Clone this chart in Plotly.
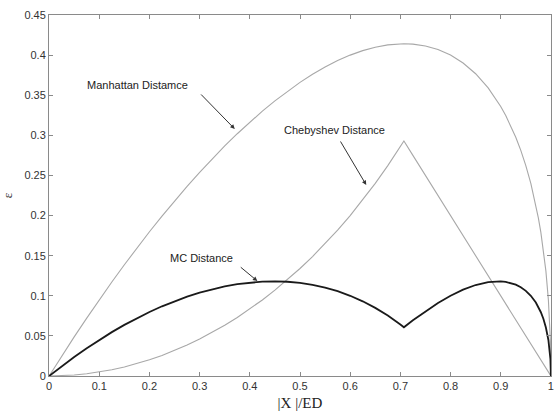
import plotly.graph_objects as go

# |X|/ED sample positions
x_vals = [0, 0.025, 0.05, 0.075, 0.1, 0.125, 0.15, 0.175, 0.2, 0.225, 0.25, 0.275, 0.3,
          0.325, 0.35, 0.375, 0.4, 0.425, 0.45, 0.475, 0.5, 0.525, 0.55, 0.575, 0.6, 0.625,
          0.65, 0.675, 0.7, 0.7071, 0.725, 0.75, 0.775, 0.8, 0.825, 0.85, 0.875, 0.9, 0.91,
          0.93, 0.94, 0.95, 0.96, 0.97, 0.975, 0.98, 0.985, 0.99, 0.995, 0.9975, 0.999, 1]

manhattan = [0, 0.0247, 0.0488, 0.0722, 0.0950, 0.1172, 0.1387, 0.1596, 0.1798, 0.1994,
             0.2183, 0.2364, 0.2539, 0.2707, 0.2868, 0.3020, 0.3165, 0.3302, 0.3430, 0.3550,
             0.3660, 0.3761, 0.3852, 0.3932, 0.4000, 0.4056, 0.4099, 0.4128, 0.4141, 0.4142,
             0.4137, 0.4114, 0.4070, 0.4000, 0.3901, 0.3768, 0.3591, 0.3359, 0.3246, 0.2976,
             0.2812, 0.2623, 0.2400, 0.2131, 0.1972, 0.1790, 0.1576, 0.1311, 0.0949, 0.0682,
             0.0437, 0]

chebyshev = [0, 0.0003, 0.0013, 0.0028, 0.0050, 0.0078, 0.0113, 0.0154, 0.0202, 0.0256,
             0.0318, 0.0386, 0.0461, 0.0543, 0.0633, 0.0730, 0.0835, 0.0948, 0.1070, 0.1200,
             0.1340, 0.1489, 0.1648, 0.1818, 0.2000, 0.2194, 0.2401, 0.2622, 0.2859, 0.2929,
             0.2750, 0.2500, 0.2250, 0.2000, 0.1750, 0.1500, 0.1250, 0.1000, 0.0900, 0.0700,
             0.0600, 0.0500, 0.0400, 0.0300, 0.0250, 0.0200, 0.0150, 0.0100, 0.0050, 0.0025,
             0.0010, 0]

mc = [0, 0.0122, 0.0238, 0.0347, 0.0450, 0.0547, 0.0637, 0.0721, 0.0798, 0.0869,
      0.0933, 0.0989, 0.1039, 0.1082, 0.1118, 0.1145, 0.1165, 0.1177, 0.1180, 0.1175,
      0.1160, 0.1136, 0.1102, 0.1057, 0.1000, 0.0931, 0.0849, 0.0753, 0.0641, 0.0607,
      0.0694, 0.0807, 0.0910, 0.1000, 0.1076, 0.1134, 0.1171, 0.1179, 0.1173, 0.1138,
      0.1106, 0.1061, 0.1000, 0.0916, 0.0861, 0.0795, 0.0713, 0.0605, 0.0449, 0.0328,
      0.0214, 0]

x_ticks = [0, 0.1, 0.2, 0.3, 0.4, 0.5, 0.6, 0.7, 0.8, 0.9, 1]
x_tick_labels = ["0", "0.1", "0.2", "0.3", "0.4", "0.5", "0.6", "0.7", "0.8", "0.9", "1"]
y_ticks = [0, 0.05, 0.1, 0.15, 0.2, 0.25, 0.3, 0.35, 0.4, 0.45]
y_tick_labels = ["0", "0.05", "0.1", "0.15", "0.2", "0.25", "0.3", "0.35", "0.4", "0.45"]

fig = go.Figure()
fig.add_trace(go.Scatter(x=x_vals, y=manhattan, mode="lines",
                         line=dict(color="#a8a8a8", width=1.1), showlegend=False))
fig.add_trace(go.Scatter(x=x_vals, y=chebyshev, mode="lines",
                         line=dict(color="#a8a8a8", width=1.1), showlegend=False))
fig.add_trace(go.Scatter(x=x_vals, y=mc, mode="lines",
                         line=dict(color="#1a1a1a", width=1.8), showlegend=False))

font_txt = dict(family="Liberation Sans, Arial, sans-serif", size=11, color="#222")
labels = [
    ("Manhattan Distamce", 0.176, 0.3627, 0.300, 0.3528, 0.370, 0.3079),
    ("Chebyshev Distance", 0.569, 0.3066, 0.579, 0.2942, 0.632, 0.2381),
    ("MC Distance", 0.304, 0.1471, 0.379, 0.1371, 0.415, 0.1184),
]
for text, tx, ty, x0, y0, x1, y1 in labels:
    fig.add_annotation(x=tx, y=ty, text=text, showarrow=False, font=font_txt,
                       xref="x", yref="y")
    fig.add_annotation(x=x1, y=y1, ax=x0, ay=y0, xref="x", yref="y", axref="x", ayref="y",
                       text="", showarrow=True, arrowhead=2, arrowsize=0.9,
                       arrowwidth=1, arrowcolor="#333")

axis_common = dict(showgrid=False, zeroline=False, showline=True, linecolor="#8a8a8a",
                   linewidth=1, mirror="ticks", ticks="inside", ticklen=4,
                   tickcolor="#8a8a8a",
                   tickfont=dict(family="Liberation Sans, Arial, sans-serif", size=11, color="#333"))

fig.update_layout(
    width=557, height=416,
    margin=dict(l=49, r=3, t=15, b=40),
    paper_bgcolor="white", plot_bgcolor="white",
    xaxis=dict(range=[-0.0002, 1.0002], tickvals=x_ticks, ticktext=x_tick_labels,
               title=dict(text="|X |/ED", standoff=6,
                          font=dict(family="Liberation Serif, Times New Roman, serif", size=15, color="#222")),
               **axis_common),
    yaxis=dict(range=[0, 0.45], tickvals=y_ticks, ticktext=y_tick_labels,
               title=dict(text="ε", standoff=12,
                          font=dict(family="Liberation Serif, Times New Roman, serif", size=13, color="#333")),
               **axis_common),
)

fig.write_html("out.html")
